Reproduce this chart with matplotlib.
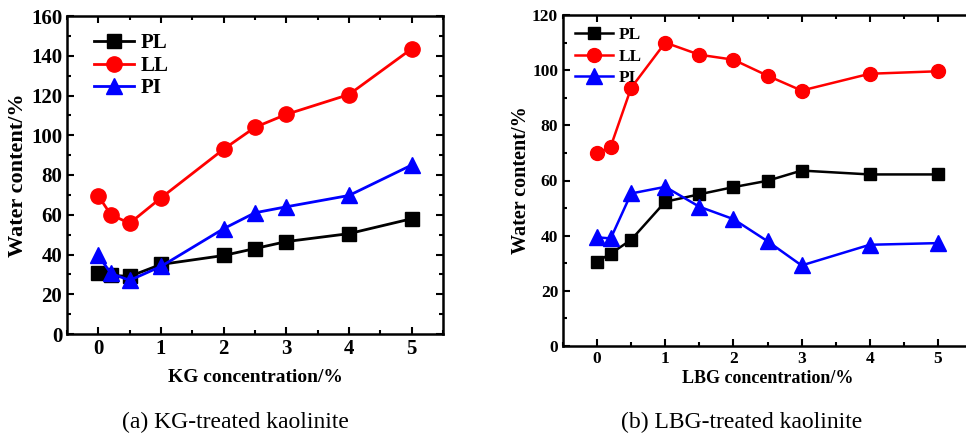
import matplotlib.pyplot as plt
from matplotlib.ticker import MultipleLocator

plt.rcParams['font.family'] = ['Liberation Serif', 'DejaVu Serif']
plt.rcParams['font.weight'] = 'bold'

# (a) KG-treated kaolinite
kg_conc = [0, 0.2, 0.5, 1, 2, 2.5, 3, 4, 5]
kg_pl = [30.5, 29.5, 29, 35, 39.5, 43, 46.5, 50.5, 58]
kg_ll = [69.5, 60, 55.7, 68.5, 93, 104, 110.5, 120.5, 143.5]
kg_pi = [39.5, 30.5, 27, 34, 53, 61, 64, 69.7, 85]

# (b) LBG-treated kaolinite
lbg_conc = [0, 0.2, 0.5, 1, 1.5, 2, 2.5, 3, 4, 5]
lbg_pl = [30.6, 33.5, 38.5, 52.3, 55, 57.6, 59.9, 63.6, 62.2, 62.2]
lbg_ll = [69.8, 72.3, 93.6, 110, 105.6, 103.8, 98, 92.6, 98.7, 99.6]
lbg_pi = [39.4, 39, 55.3, 57.7, 50.5, 46, 38, 29.2, 36.7, 37.3]

W, H = 966, 438
fig = plt.figure(figsize=(W / 100, H / 100), dpi=100)


def setup(ax, ymax, fs, right_ticks=True):
	ax.set_xlim(-0.5, 5.5)
	ax.set_ylim(0, ymax)
	ax.xaxis.set_major_locator(MultipleLocator(1))
	ax.xaxis.set_minor_locator(MultipleLocator(0.5))
	ax.yaxis.set_major_locator(MultipleLocator(20))
	ax.yaxis.set_minor_locator(MultipleLocator(10))
	ax.tick_params(which='both', direction='in', top=True, right=right_ticks, width=1.5)
	ax.tick_params(which='major', length=5, labelsize=fs)
	ax.tick_params(which='minor', length=3)
	for s in ax.spines.values():
		s.set_linewidth(1.8)
	for lab in ax.get_xticklabels() + ax.get_yticklabels():
		lab.set_fontweight('bold')


ax1 = fig.add_axes([67 / W, (H - 334) / H, 376 / W, 318 / H])
ax1.plot(kg_conc, kg_pl, color='black', marker='s', ms=10, lw=2, label='PL')
ax1.plot(kg_conc, kg_ll, color='red', marker='o', ms=11, lw=2, label='LL')
ax1.plot(kg_conc, kg_pi, color='blue', marker='^', ms=12, lw=2, label='PI')
setup(ax1, 160, 15)
ax1.set_xlabel('KG concentration/%', fontsize=14, fontweight='bold', labelpad=7)
ax1.set_ylabel('Water content/%', fontsize=16, fontweight='bold', labelpad=2)
ax1.legend(loc='upper left', frameon=False, prop={'size': 15, 'weight': 'bold'},
	handlelength=1.9, handletextpad=0.3, labelspacing=0.12,
	bbox_to_anchor=(0.023, 1.004))

ax2 = fig.add_axes([563 / W, (H - 346) / H, 409 / W, 331 / H])
ax2.plot(lbg_conc, lbg_pl, color='black', marker='s', ms=9, lw=1.8, label='PL')
ax2.plot(lbg_conc, lbg_ll, color='red', marker='o', ms=10, lw=1.8, label='LL')
ax2.plot(lbg_conc, lbg_pi, color='blue', marker='^', ms=11, lw=1.8, label='PI')
setup(ax2, 120, 12.5, right_ticks=False)
ax2.spines['right'].set_visible(False)
ax2.set_xlabel('LBG concentration/%', fontsize=13, fontweight='bold', labelpad=2)
ax2.set_ylabel('Water content/%', fontsize=14.5, fontweight='bold', labelpad=1)
ax2.legend(loc='upper left', frameon=False, prop={'size': 12.5, 'weight': 'bold'},
	handlelength=2.2, handletextpad=0.3, labelspacing=0.3, borderaxespad=0.3)

fig.text(235 / W, 1 - 422 / H, '(a) KG-treated kaolinite', ha='center', va='center',
	fontsize=17, fontweight='normal')
fig.text(742 / W, 1 - 422 / H, '(b) LBG-treated kaolinite', ha='center', va='center',
	fontsize=17, fontweight='normal')

fig.savefig('out.png', dpi=100)
